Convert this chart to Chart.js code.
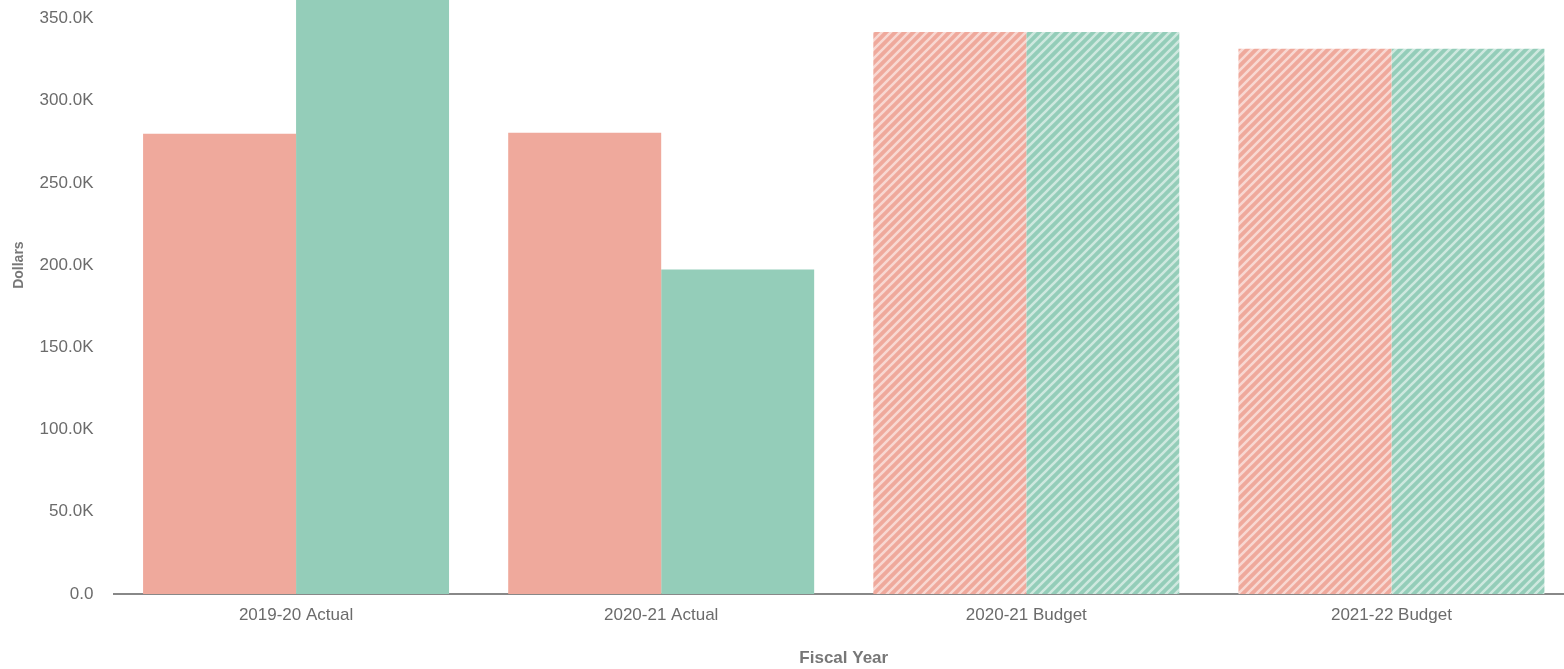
<!DOCTYPE html>
<html>
<head>
<meta charset="utf-8">
<script src="https://cdn.jsdelivr.net/npm/chart.js@4"></script>
<style>
  html, body { margin: 0; padding: 0; background: #fff; overflow: hidden; }
  body { position: relative; width: 1564px; height: 669px; }
  #wrap { position: absolute; left: 0; top: -94px; width: 1574px; height: 763px; }
</style>
</head>
<body>
<div id="wrap"><canvas id="chart"></canvas></div>
<script>
const categories = ['2019-20 Actual', '2020-21 Actual', '2020-21 Budget', '2021-22 Budget'];
const revenues = [279900, 280500, 341800, 331500];
const expenses = [380000, 197400, 341800, 331500];
const isBudget = [false, false, true, true];

const SALMON = '#efa99c';
const GREEN = '#94cdb9';
const FONT = '"Liberation Sans", Arial, Helvetica, sans-serif';

function hatch(color) {
  const c = document.createElement('canvas');
  c.width = 9;
  c.height = 9;
  const g = c.getContext('2d');
  g.fillStyle = color;
  g.fillRect(0, 0, 9, 9);
  g.strokeStyle = 'rgba(255, 255, 255, 0.55)';
  g.lineWidth = 2.6;
  g.beginPath();
  g.moveTo(-1, 10); g.lineTo(10, -1);
  g.moveTo(-5, 5); g.lineTo(5, -5);
  g.moveTo(4, 14); g.lineTo(14, 4);
  g.stroke();
  return g.createPattern(c, 'repeat');
}

const fills = (color) => {
  const p = hatch(color);
  return isBudget.map(b => (b ? p : color));
};

const fmtK = v => (v === 0 ? '0.0' : (v / 1000).toFixed(1) + 'K');

new Chart(document.getElementById('chart'), {
  type: 'bar',
  data: {
    labels: categories,
    datasets: [
      { label: 'Revenues', data: revenues, backgroundColor: fills(SALMON), borderWidth: 0 },
      { label: 'Expenses', data: expenses, backgroundColor: fills(GREEN), borderWidth: 0 },
    ],
  },
  options: {
    responsive: true,
    maintainAspectRatio: false,
    animation: false,
    layout: { padding: { top: 0.5, left: 0, right: 0, bottom: 0 } },
    datasets: { bar: { categoryPercentage: 0.838, barPercentage: 1 } },
    scales: {
      x: {
        grid: { display: false, drawTicks: false },
        border: { display: true, color: '#888888', width: 2 },
        ticks: { color: '#6b6b6b', padding: 11, font: { family: FONT, size: 17 } },
        title: {
          display: true, text: 'Fiscal Year', color: '#777777',
          font: { family: FONT, size: 17, weight: 'bold' }, padding: { top: 0, bottom: 0 },
        },
        afterFit: s => { s.height = 75; },
      },
      y: {
        min: 0,
        max: 400000,
        grid: { display: false, drawTicks: false },
        border: { display: false },
        ticks: { stepSize: 50000, color: '#6b6b6b', padding: 20, font: { family: FONT, size: 17 }, callback: fmtK },
        title: {
          display: true, text: 'Dollars', color: '#777777',
          font: { family: FONT, size: 14, weight: 'bold' }, padding: { top: 11, bottom: 0 },
        },
        afterFit: s => { s.width = 113.5; },
      },
    },
    plugins: {
      legend: { display: false },
      tooltip: { enabled: false },
    },
  },
});
</script>
</body>
</html>
